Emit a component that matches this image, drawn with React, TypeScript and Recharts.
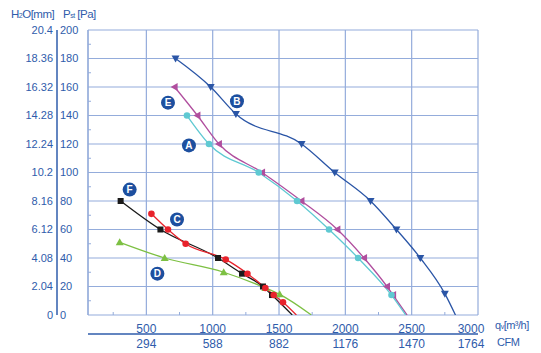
import { LineChart, Line, XAxis, YAxis, CartesianGrid, ReferenceDot } from "recharts";

// pressure axis (Pa) and its twin in mm H2O
const paMinor = [10, 30, 50, 70, 90, 110, 130, 150, 170, 190];
const paMajor = [0, 20, 40, 60, 80, 100, 120, 140, 160, 180, 200];
const paTicks = [...paMajor, ...paMinor].sort((a, b) => a - b);
const mmLabels = ["0", "2.04", "4.08", "6.12", "8.16", "10.2", "12.24", "14.28", "16.32", "18.36", "20.4"];

// flow axis (m3/h) and CFM
const qMajor = [500, 1000, 1500, 2000, 2500, 3000];
const qMinor = [250, 750, 1250, 1750, 2250, 2750];
const qTicks = [...qMajor, ...qMinor].sort((a, b) => a - b);
const cfmLabels = ["294", "588", "882", "1176", "1470", "1764"];

const curveA = [
  { q: 806, p: 140 }, { q: 972, p: 120 }, { q: 1347, p: 100 }, { q: 1636, p: 80 },
  { q: 1877, p: 60 }, { q: 2096, p: 40 }, { q: 2348, p: 14 }, { q: 2455, p: 0 },
];
const curveB = [
  { q: 720, p: 180 }, { q: 985, p: 160 }, { q: 1175, p: 141 }, { q: 1670, p: 120 },
  { q: 1920, p: 100 }, { q: 2190, p: 80 }, { q: 2385, p: 60 }, { q: 2565, p: 40 },
  { q: 2750, p: 15 }, { q: 2830, p: 0 },
];
const curveC = [
  { q: 538, p: 71 }, { q: 663, p: 60 }, { q: 796, p: 50 }, { q: 1098, p: 39 },
  { q: 1262, p: 29 }, { q: 1397, p: 19 }, { q: 1460, p: 14 }, { q: 1530, p: 9 }, { q: 1631, p: 0 },
];
const curveD = [
  { q: 299, p: 51 }, { q: 638, p: 40 }, { q: 1083, p: 30 }, { q: 1397, p: 19 },
  { q: 1505, p: 14.5 }, { q: 1744, p: 0 },
];
const curveE = [
  { q: 713, p: 160 }, { q: 885, p: 140 }, { q: 1047, p: 120 }, { q: 1372, p: 100 },
  { q: 1669, p: 80 }, { q: 1940, p: 60 }, { q: 2141, p: 40 }, { q: 2314, p: 20 },
  { q: 2360, p: 14 }, { q: 2465, p: 0 },
];
const curveF = [
  { q: 306, p: 80 }, { q: 606, p: 60 }, { q: 1040, p: 40 }, { q: 1221, p: 29 },
  { q: 1379, p: 20 }, { q: 1447, p: 14 }, { q: 1600, p: 0 },
];

const tags = [
  { tag: "A", q: 821, p: 119 },
  { tag: "B", q: 1183, p: 150 },
  { tag: "C", q: 731, p: 67 },
  { tag: "D", q: 583, p: 29 },
  { tag: "E", q: 663, p: 149 },
  { tag: "F", q: 374, p: 88 },
];

const BLUE = "#2f5cab";
const GRID = "#94acdb";
const FONT = "'Liberation Sans', Arial, sans-serif";

type Shape = "circle" | "square" | "down" | "up" | "left";

const makeDot = (shape: Shape, color: string, last: number) => (props: any) => {
  const { cx, cy, index } = props;
  if (index === last || cx == null) return <g key={index} />;
  if (shape === "circle")
    return <circle key={index} cx={cx} cy={cy} r={3.3} fill={color} />;
  if (shape === "square")
    return <rect key={index} x={cx - 3} y={cy - 3} width={6} height={6} fill={color} />;
  const s = 4;
  let pts = "";
  if (shape === "down") pts = `${cx - s},${cy - s + 1} ${cx + s},${cy - s + 1} ${cx},${cy + s}`;
  if (shape === "up") pts = `${cx - s},${cy + s - 1} ${cx + s},${cy + s - 1} ${cx},${cy - s}`;
  if (shape === "left") pts = `${cx + s - 1},${cy - s} ${cx + s - 1},${cy + s} ${cx - s},${cy}`;
  return <polygon key={index} points={pts} fill={color} />;
};

const PaTick = (props: any) => {
  const { x, y, payload } = props;
  if (payload.value % 20 !== 0)
    return <line x1={x} x2={x + 3} y1={y} y2={y} stroke={GRID} strokeWidth={1} />;
  return (
    <text x={x - 28} y={y} dy="0.36em" textAnchor="start" fill={BLUE} fontSize={11} fontFamily={FONT}>
      {payload.value}
    </text>
  );
};

const MmTick = (props: any) => {
  const { x, y, payload } = props;
  const label = mmLabels[paMajor.indexOf(payload.value)];
  return (
    <text x={x - 4} y={y} dy="0.36em" textAnchor="end" fill={BLUE} fontSize={11} fontFamily={FONT}>
      {label}
    </text>
  );
};

// the last label on each bottom row is pulled in so it clears the unit text
const lastShift = (v: number) => (v === qMajor[qMajor.length - 1] ? -7 : 0);

const QTick = (props: any) => {
  const { x, y, payload } = props;
  if (payload.value % 500 !== 0)
    return <line x1={x} x2={x} y1={y} y2={y - 3} stroke={GRID} strokeWidth={1} />;
  return (
    <text x={x + lastShift(payload.value)} y={y + 18} textAnchor="middle" fill={BLUE} fontSize={12} fontFamily={FONT}>
      {payload.value}
    </text>
  );
};

const CfmTick = (props: any) => {
  const { x, y, payload } = props;
  return (
    <text x={x + lastShift(payload.value)} y={y + 14} textAnchor="middle" fill={BLUE} fontSize={12} fontFamily={FONT}>
      {cfmLabels[qMajor.indexOf(payload.value)]}
    </text>
  );
};

// axis ids: "x1"/"y1" sit next to the plot, "x2"/"y2" further out (CFM, mm H2O)
const series = [
  { id: "B", data: curveB, color: "#2a55a6", shape: "down" as Shape, xId: "x2", yId: "y2" },
  { id: "E", data: curveE, color: "#b04e9e", shape: "left" as Shape, xId: "x2", yId: "y2" },
  { id: "A", data: curveA, color: "#5fc9d2", shape: "circle" as Shape, xId: "x2", yId: "y2" },
  { id: "D", data: curveD, color: "#7dc043", shape: "up" as Shape, xId: "x1", yId: "y1" },
  { id: "F", data: curveF, color: "#1a1a1a", shape: "square" as Shape, xId: "x1", yId: "y1" },
  { id: "C", data: curveC, color: "#e8222b", shape: "circle" as Shape, xId: "x1", yId: "y1" },
];

export default function App() {
  return (
    <div style={{ position: "absolute", left: 0, top: 0, width: 541, height: 353, background: "#fff" }}>
      <div style={{ position: "absolute", left: 11, top: 8, fontSize: 11.5, color: BLUE, fontFamily: FONT, letterSpacing: -0.5 }}>
        H<span style={{ fontSize: 7 }}>2</span>O[mm]
      </div>
      <div style={{ position: "absolute", left: 63, top: 8, fontSize: 11.5, color: BLUE, fontFamily: FONT, letterSpacing: -0.5 }}>
        P<span style={{ fontSize: 7 }}>st</span> [Pa]
      </div>
      <div style={{ position: "absolute", left: 495, top: 319, fontSize: 11, color: BLUE, fontFamily: FONT, letterSpacing: -0.5 }}>
        q<span style={{ fontSize: 7 }}>v</span>[m³/h]
      </div>
      <div style={{ position: "absolute", left: 497, top: 336, fontSize: 11, color: BLUE, fontFamily: FONT, letterSpacing: -0.5 }}>
        CFM
      </div>
      <LineChart width={541} height={353} margin={{ top: 30, right: 63, left: 5, bottom: 0 }}>
        <CartesianGrid xAxisId="x2" yAxisId="y2" stroke={GRID} strokeWidth={1.2} />
        <XAxis
          xAxisId="x1"
          type="number"
          dataKey="q"
          domain={[60, 3000]}
          ticks={qTicks}
          height={19}
          axisLine={false}
          tickLine={false}
          tickSize={0}
          tickMargin={0}
          tick={<QTick />}
          interval={0}
          allowDataOverflow
        />
        <XAxis
          xAxisId="x2"
          type="number"
          dataKey="q"
          domain={[60, 3000]}
          ticks={qMajor}
          height={19}
          axisLine={{ stroke: BLUE, strokeWidth: 1.5 }}
          tickLine={false}
          tickSize={0}
          tickMargin={0}
          tick={<CfmTick />}
          interval={0}
          allowDataOverflow
        />
        <YAxis
          yAxisId="y1"
          type="number"
          domain={[0, 200]}
          ticks={paTicks}
          width={31}
          axisLine={{ stroke: GRID, strokeWidth: 1.2 }}
          tickLine={false}
          tickSize={0}
          tickMargin={0}
          tick={<PaTick />}
          interval={0}
          allowDataOverflow
        />
        <YAxis
          yAxisId="y2"
          type="number"
          domain={[0, 200]}
          ticks={paMajor}
          width={52}
          axisLine={{ stroke: BLUE, strokeWidth: 1.5 }}
          tickLine={false}
          tickSize={0}
          tickMargin={0}
          tick={<MmTick />}
          interval={0}
          allowDataOverflow
        />
        {series.map((s) => (
          <Line
            key={s.id}
            xAxisId={s.xId}
            yAxisId={s.yId}
            data={s.data}
            dataKey="p"
            type="monotone"
            stroke={s.color}
            strokeWidth={1.3}
            dot={makeDot(s.shape, s.color, s.data.length - 1)}
            activeDot={false}
            isAnimationActive={false}
          />
        ))}
        {tags.map((t) => (
          <ReferenceDot
            key={t.tag}
            xAxisId="x1"
            yAxisId="y1"
            x={t.q}
            y={t.p}
            r={7}
            fill="#1d4f9f"
            stroke="none"
            label={{ value: t.tag, position: "center", fill: "#fff", fontSize: 10, fontWeight: "bold", fontFamily: FONT }}
          />
        ))}
      </LineChart>
    </div>
  );
}
